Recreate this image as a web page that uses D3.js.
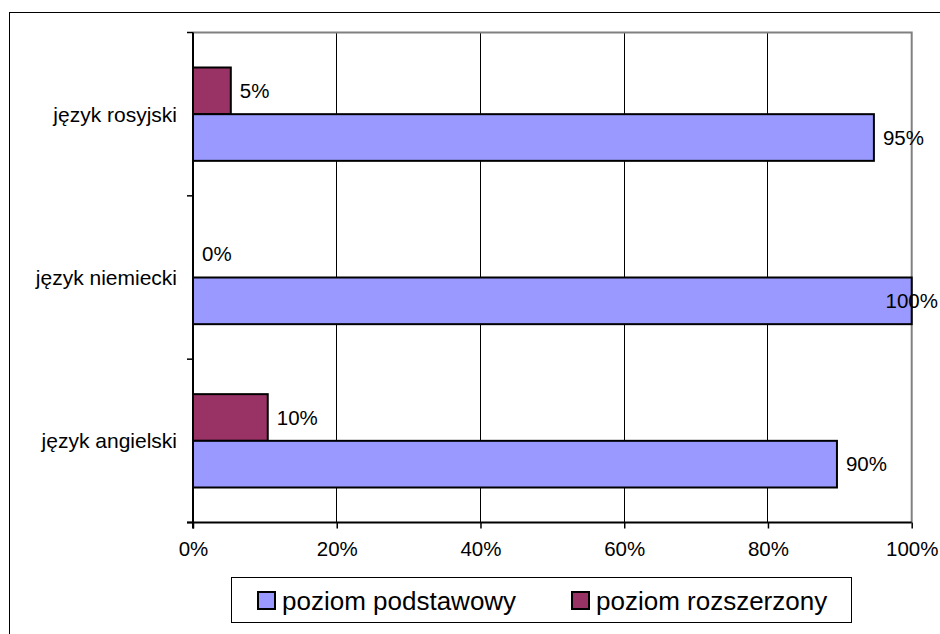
<!DOCTYPE html>
<html>
<head>
<meta charset="utf-8">
<script src="https://cdn.jsdelivr.net/npm/d3@7"></script>
<style>
  html, body { margin: 0; padding: 0; background: #fff; }
  svg { display: block; font-family: "Liberation Sans", Arial, sans-serif; }
</style>
</head>
<body>
<svg id="chart" width="940" height="634"></svg>
<script>
// Categories (top to bottom)
const categories = ["język rosyjski", "język niemiecki", "język angielski"];
// Series values (share, %)
const podstawowy = [94.74, 100, 89.6];
const rozszerzony = [5.26, 0, 10.4];
const seriesNames = ["poziom podstawowy", "poziom rozszerzony"];
const seriesColors = ["#9999FF", "#993366"];
const xTicks = [0, 20, 40, 60, 80, 100];

const svg = d3.select("#chart");
const W = 940, H = 634;
const m = { left: 193, top: 32.5, right: 28.3, bottom: 111.5 };
const pw = W - m.left - m.right, ph = H - m.top - m.bottom;

// outer frame
svg.append("rect").attr("x", 9.5).attr("y", 12.5).attr("width", 940).attr("height", 640)
  .attr("fill", "none").attr("stroke", "#000").attr("stroke-width", 1);

const g = svg.append("g").attr("transform", `translate(${m.left},${m.top})`);

const x = d3.scaleLinear().domain([0, 100]).range([0, pw]);
const y = d3.scaleBand().domain(categories).range([0, ph]).paddingInner(0.4285).paddingOuter(0.2143);
const ySub = d3.scaleBand().domain(["rozszerzony", "podstawowy"]).range([0, y.bandwidth()]);

// gridlines
g.selectAll("line.grid").data(xTicks.filter(t => t > 0 && t < 100)).join("line")
  .attr("class", "grid")
  .attr("x1", d => x(d)).attr("x2", d => x(d))
  .attr("y1", 0).attr("y2", ph)
  .attr("stroke", "#000").attr("stroke-width", 1).attr("shape-rendering", "crispEdges");

// plot border top and right (grey)
g.append("path").attr("d", `M0,0H${pw}V${ph}`).attr("fill", "none")
  .attr("stroke", "#808080").attr("stroke-width", 2);

const rows = categories.map((c, i) => ({ c, pod: podstawowy[i], roz: rozszerzony[i] }));

function fmt(v) { return Math.round(v) + "%"; }

const barData = [];
rows.forEach(r => {
  barData.push({ c: r.c, key: "rozszerzony", v: r.roz, color: seriesColors[1] });
  barData.push({ c: r.c, key: "podstawowy", v: r.pod, color: seriesColors[0] });
});

g.selectAll("rect.bar").data(barData.filter(d => d.v > 0)).join("rect")
  .attr("class", "bar")
  .attr("x", 0)
  .attr("y", d => y(d.c) + ySub(d.key))
  .attr("width", d => x(d.v))
  .attr("height", ySub.bandwidth())
  .attr("fill", d => d.color)
  .attr("stroke", "#000").attr("stroke-width", 2);

// data labels
const labels = g.selectAll("text.lbl").data(barData).join("text")
  .attr("class", "lbl")
  .attr("x", d => x(d.v) + 9)
  .attr("y", d => y(d.c) + ySub(d.key) + ySub.bandwidth() / 2)
  .attr("dy", "0.35em")
  .attr("font-size", 20.5)
  .attr("fill", "#000")
  .text(d => fmt(d.v));
labels.each(function () {
  const len = this.getComputedTextLength();
  const xx = +this.getAttribute("x");
  const maxEnd = W - m.left - 2;
  if (xx + len > maxEnd) this.setAttribute("x", maxEnd - len);
});

// y axis
const yAxis = g.append("g").call(d3.axisLeft(y).tickSize(0).tickFormat(""));
yAxis.select(".domain").remove();
g.append("line").attr("x1", 0).attr("x2", 0).attr("y1", 0).attr("y2", ph + 6)
  .attr("stroke", "#000").attr("stroke-width", 2);
// category boundary ticks
const bounds = [0].concat(categories.map(c => y(c) + y.bandwidth() + y.step() * y.paddingInner() / 2));
bounds[bounds.length - 1] = ph;
g.selectAll("line.ytick").data(bounds).join("line").attr("class", "ytick")
  .attr("x1", -6).attr("x2", 0).attr("y1", d => d).attr("y2", d => d)
  .attr("stroke", "#000").attr("stroke-width", 1.5);
g.selectAll("text.cat").data(categories).join("text").attr("class", "cat")
  .attr("x", -16).attr("y", d => y(d) + y.bandwidth() / 2).attr("dy", "0.35em")
  .attr("text-anchor", "end").attr("font-size", 21).attr("fill", "#000")
  .text(d => d);

// x axis
const xAxis = g.append("g").attr("transform", `translate(0,${ph})`)
  .call(d3.axisBottom(x).tickValues(xTicks).tickSize(6).tickSizeOuter(0).tickPadding(13).tickFormat(d => d + "%"));
xAxis.select(".domain").attr("stroke", "#000").attr("stroke-width", 2).attr("d", `M-6,0H${pw}`);
xAxis.selectAll(".tick line").attr("stroke", "#000").attr("stroke-width", 1.5);
xAxis.selectAll(".tick text").attr("font-size", 20.5).attr("fill", "#000")
  .attr("font-family", "Liberation Sans, Arial, sans-serif");

// legend
const lg = svg.append("g");
lg.append("rect").attr("x", 231.5).attr("y", 577.5).attr("width", 620).attr("height", 45)
  .attr("fill", "#fff").attr("stroke", "#000").attr("stroke-width", 1);
const legendX = [258, 572];
seriesNames.forEach((s, i) => {
  lg.append("rect").attr("x", legendX[i]).attr("y", 592).attr("width", 17).attr("height", 17)
    .attr("fill", seriesColors[i]).attr("stroke", "#000").attr("stroke-width", 2);
  lg.append("text").attr("x", legendX[i] + 24).attr("y", 600.5).attr("dy", "0.35em")
    .attr("font-size", 26).attr("fill", "#000").text(s);
});
</script>
</body>
</html>
